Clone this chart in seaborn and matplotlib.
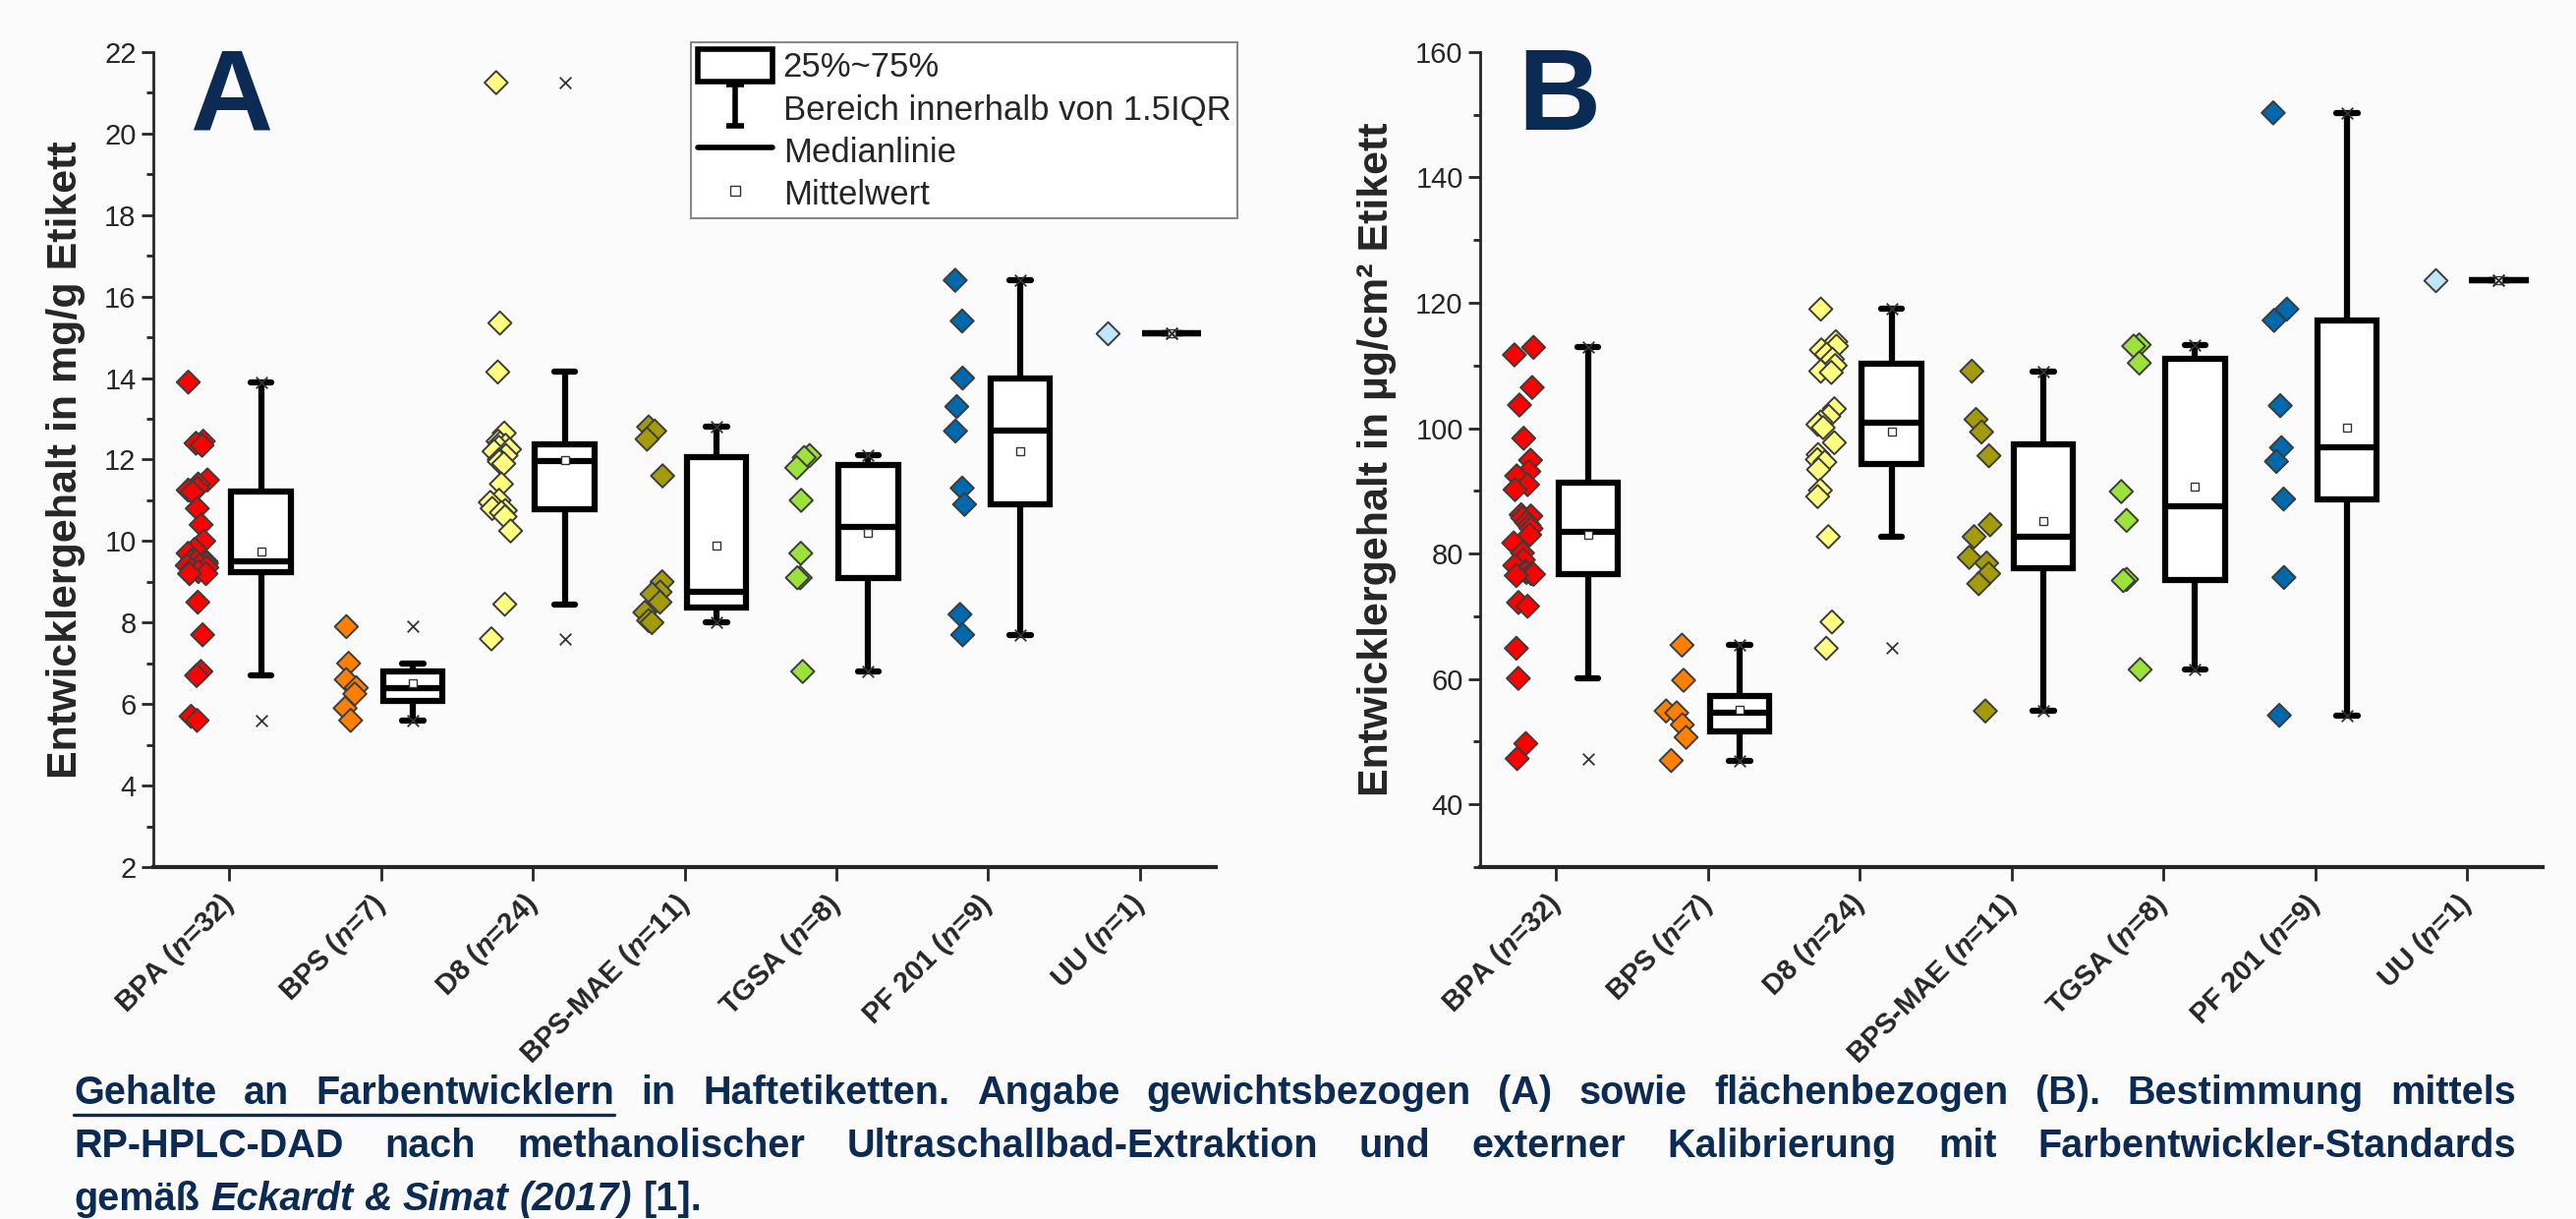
import matplotlib
matplotlib.use("Agg")
import numpy as np
import pandas as pd
import matplotlib.pyplot as plt
import matplotlib.transforms as mtransforms
import seaborn as sns
from matplotlib.lines import Line2D
from matplotlib.patches import Patch
from matplotlib.path import Path

# groups and colours
groups = ["BPA", "BPS", "D8", "BPS-MAE", "TGSA", "PF 201", "UU"]
group_n = [32, 7, 24, 11, 8, 9, 1]
group_colors = ["#ff0000", "#ff8000", "#ffff80", "#a39b0a", "#9be33a", "#0068ad", "#bfe5ff"]
tick_labels = [g + r" ($\mathit{n}$=" + str(n) + ")" for g, n in zip(groups, group_n)]

# A: mg/g label
bpa_a = [13.9, 12.45, 12.4, 12.35, 11.5, 11.4, 11.3, 11.25, 11.2, 10.8, 10.4, 10.0, 9.8, 9.7, 9.55, 9.5,
         9.5, 9.5, 9.45, 9.4, 9.4, 9.35, 9.3, 9.25, 9.2, 9.2, 8.5, 7.7, 6.8, 6.7, 5.7, 5.6]
bps_a = [7.9, 7.0, 6.6, 6.4, 6.25, 5.9, 5.6]
d8_a = [21.25, 15.35, 14.15, 12.65, 12.45, 12.4, 12.35, 12.3, 12.25, 12.2, 12.1, 12.0, 11.95, 11.9,
        11.4, 11.0, 10.95, 10.8, 10.75, 10.7, 10.6, 10.25, 8.45, 7.6]
bpsmae_a = [12.8, 12.7, 12.5, 11.6, 9.0, 8.75, 8.7, 8.5, 8.25, 8.05, 8.0]
tgsa_a = [12.1, 12.05, 11.8, 11.0, 9.7, 9.1, 9.1, 6.8]
pf_a = [16.4, 15.4, 14.0, 13.3, 12.7, 11.3, 10.9, 8.2, 7.7]
uu_a = [15.1]

# B: ug/cm2 label
bpa_b = [112.9, 111.7, 106.5, 103.7, 98.4, 94.9, 93.1, 92.4, 91.0, 90.2, 86.2, 86.0, 85.7, 85.0, 84.5, 84.0,
         83.0, 81.7, 80.1, 79.0, 78.1, 77.2, 77.0, 76.8, 76.7, 76.5, 72.2, 71.6, 64.9, 60.1, 49.7, 47.3]
bps_b = [65.4, 59.8, 54.9, 54.6, 52.7, 50.7, 47.0]
d8_b = [119.0, 113.8, 113.1, 112.5, 111.8, 111.0, 110.0, 109.1, 108.9, 103.1, 101.9, 101.0, 100.6, 100.1,
        97.7, 95.8, 95.0, 94.6, 93.4, 90.1, 89.1, 82.7, 69.1, 64.9]
bpsmae_b = [109.1, 101.4, 99.4, 95.6, 84.6, 82.7, 79.4, 78.5, 76.8, 75.2, 54.9]
tgsa_b = [113.3, 113.1, 110.4, 89.9, 85.3, 75.9, 75.7, 61.5]
pf_b = [150.3, 119.0, 117.2, 103.6, 96.9, 94.7, 88.7, 76.2, 54.2]
uu_b = [123.6]

sns.set_style("ticks")
plt.rcParams["font.family"] = ["Liberation Sans", "DejaVu Sans"]
plt.rcParams["mathtext.fontset"] = "custom"
plt.rcParams["mathtext.it"] = "Liberation Sans:italic:bold"
plt.rcParams["mathtext.rm"] = "Liberation Sans:bold"

bg = "#fbfbfb"
navy = "#0c2b54"
np.random.seed(7)  # jitter only


def long_table(values):
    rows = []
    for i, (g, vals) in enumerate(zip(groups, values)):
        for v in vals:
            rows.append({"group": g, "pos": i, "value": v})
    return pd.DataFrame(rows)


def draw_panel(ax, df, ylim, major, minor, ylabel):
    ax.set_facecolor(bg)
    sns.stripplot(data=df, x=df["pos"] - 0.21, y="value", hue="group", palette=dict(zip(groups, group_colors)),
                  native_scale=True, orient="x", jitter=0.07, marker="D", size=12, linewidth=1.4,
                  edgecolor="#3c3c3c", legend=False, ax=ax, zorder=3)
    sns.boxplot(data=df, x=df["pos"] + 0.21, y="value", native_scale=True, orient="x", width=0.39,
                color="white", linecolor="black", linewidth=4.5, whis=1.5, showfliers=False,
                showmeans=True, capwidths=0.14,
                meanprops=dict(marker="s", markerfacecolor="white", markeredgecolor="#333333",
                               markersize=6, markeredgewidth=1),
                ax=ax)
    ext = df.groupby("pos")["value"].agg(["min", "max"]).reset_index().melt(id_vars="pos", value_name="value")
    sns.scatterplot(x=ext["pos"] + 0.21, y=ext["value"], marker="x", color="#333333", s=70, linewidth=1.3,
                    ax=ax, zorder=6)
    ax.set_xlim(-0.5, 6.5)
    ax.set_ylim(*ylim)
    ax.set_xticks(range(len(groups)))
    ax.set_xticklabels(tick_labels, rotation=45, ha="right", va="center", rotation_mode="anchor",
                       fontsize=21, fontweight="bold")
    shift = mtransforms.ScaledTranslation(22 / 100, 0, fig.dpi_scale_trans)
    for lbl in ax.get_xticklabels():
        lbl.set_transform(lbl.get_transform() + shift)
    ax.set_yticks(major)
    ax.set_yticks(minor, minor=True)
    ax.tick_params(axis="y", which="major", labelsize=21, length=9, width=2, direction="out")
    ax.tick_params(axis="y", which="minor", length=5, width=2, direction="out")
    ax.tick_params(axis="x", which="major", length=10, width=2, direction="out", pad=14)
    ax.set_xlabel("")
    ax.set_ylabel(ylabel, fontsize=31, fontweight="bold", labelpad=14)
    for s in ["top", "right"]:
        ax.spines[s].set_visible(False)
    ax.spines["left"].set_linewidth(2)
    ax.spines["bottom"].set_linewidth(3)


fig = plt.figure(figsize=(26.21, 12.4), dpi=100, facecolor=bg)
ax_a = fig.add_axes([0.0595, 0.2887, 0.4125, 0.6686])
ax_b = fig.add_axes([0.5746, 0.2887, 0.4125, 0.6686])

df_a = long_table([bpa_a, bps_a, d8_a, bpsmae_a, tgsa_a, pf_a, uu_a])
df_b = long_table([bpa_b, bps_b, d8_b, bpsmae_b, tgsa_b, pf_b, uu_b])

draw_panel(ax_a, df_a, (2, 22), np.arange(2, 23, 2), np.arange(3, 22, 2), "Entwicklergehalt in mg/g Etikett")
draw_panel(ax_b, df_b, (30, 160), np.arange(40, 161, 20), np.arange(30, 160, 20),
           "Entwicklergehalt in µg/cm² Etikett")

fig.text(235 / 2621, 1 - 132 / 1240, "A", fontsize=84, fontweight="bold", color=navy, ha="center", va="baseline")
fig.text(1586 / 2621, 1 - 132 / 1240, "B", fontsize=84, fontweight="bold", color=navy, ha="center", va="baseline")

# legend
ibeam = Path([(-0.45, 1), (0.45, 1), (0, 1), (0, -1), (-0.45, -1), (0.45, -1)],
             [Path.MOVETO, Path.LINETO, Path.MOVETO, Path.LINETO, Path.MOVETO, Path.LINETO])
handles = [
    Patch(facecolor="white", edgecolor="black", linewidth=4),
    Line2D([], [], marker=ibeam, markersize=30, markeredgewidth=4, color="black", linestyle="none"),
    Line2D([], [], color="black", linewidth=4),
    Line2D([], [], marker="s", markersize=7, markerfacecolor="white", markeredgecolor="#333333",
           markeredgewidth=1, linestyle="none"),
]
labels = ["25%~75%", "Bereich innerhalb von 1.5IQR", "Medianlinie", "Mittelwert"]
leg = fig.legend(handles, labels, loc="upper left", bbox_to_anchor=(703 / 2621, 1 - 43 / 1240),
                 borderaxespad=0, fontsize=25, frameon=True, fancybox=False, edgecolor="#888888",
                 facecolor="white", framealpha=1, handlelength=2.2, handleheight=1.1, labelspacing=0.22,
                 borderpad=0.2, handletextpad=0.3)
leg.get_frame().set_linewidth(1.5)

# caption, justified word by word
renderer = fig.canvas.get_renderer()
W = fig.bbox.width
H = fig.bbox.height
cap_left, cap_right = 75, 2560
cap_size = 28.5
bold = dict(fontsize=cap_size, fontweight="bold", color=navy)
bold_it = dict(fontsize=cap_size, fontweight="bold", fontstyle="italic", color=navy)


def caption_line(y_px, segments, justify=True):
    words = []
    for text, kw in segments:
        for w in text.split():
            words.append((w, kw))
    arts = [fig.text(0, 1 - y_px / H, w, ha="left", va="baseline", **kw) for w, kw in words]
    widths = [a.get_window_extent(renderer).width for a in arts]
    space = 0.28 * cap_size * 100 / 72
    if justify:
        gap = max((cap_right - cap_left - sum(widths)) / (len(arts) - 1), space * 0.6)
    else:
        gap = space
    x = cap_left
    xs = []
    for a, w in zip(arts, widths):
        a.set_x(x / W)
        xs.append((x, x + w))
        x += w + gap
    return xs


xs = caption_line(1123, [("Gehalte an Farbentwicklern", bold),
                         ("in Haftetiketten. Angabe gewichtsbezogen (A) sowie flächenbezogen (B). Bestimmung mittels",
                          bold)])
fig.add_artist(Line2D([xs[0][0] / W, xs[2][1] / W], [1 - 1134 / H, 1 - 1134 / H], color=navy, linewidth=2.4))
caption_line(1177, [("RP-HPLC-DAD nach methanolischer Ultraschallbad-Extraktion und externer Kalibrierung mit "
                     "Farbentwickler-Standards", bold)])
caption_line(1231, [("gemäß", bold), ("Eckardt & Simat (2017)", bold_it), ("[1].", bold)], justify=False)

fig.savefig("out.png", dpi=100, facecolor=bg)
